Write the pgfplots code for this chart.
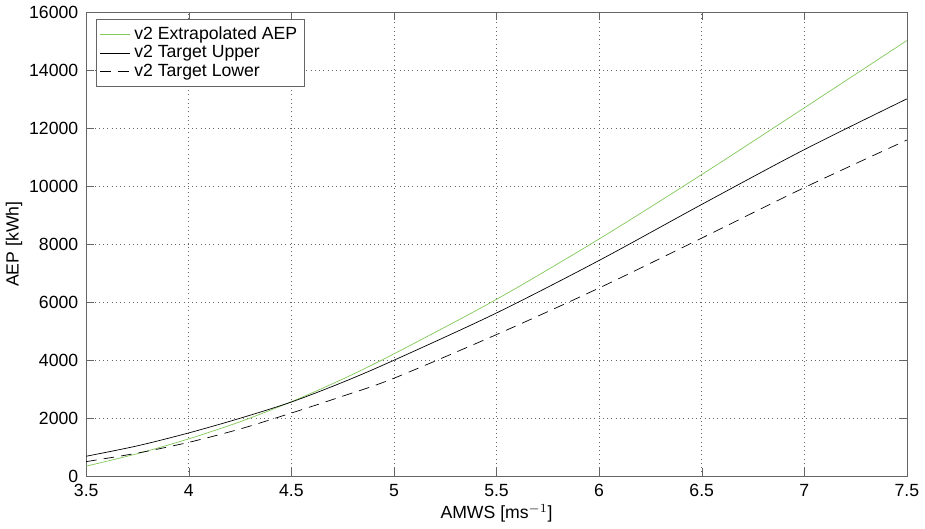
\documentclass[border=0pt]{standalone}
\usepackage{fontspec}
\setmainfont{Liberation Sans}
\usepackage{pgfplots}
\pgfplotsset{compat=1.18}
\definecolor{mgreen}{RGB}{130,200,90}
\begin{document}
\fontsize{10}{12}\selectfont
\begin{tikzpicture}
\begin{axis}[
  scale only axis,
  width=465pt, height=263pt,
  xmin=3.5, xmax=7.5, ymin=0, ymax=16000,
  xtick={3.5,4,...,7.5},
  xticklabels={3.5,4,4.5,5,5.5,6,6.5,7,7.5},
  ytick={0,2000,...,16000},
  scaled y ticks=false,
  /pgf/number format/assume math mode=true,
  yticklabel style={/pgf/number format/1000 sep={}, xshift=-1pt},
  xticklabel style={yshift=-1pt},
  tick align=inside,
  tick pos=both,
  major tick length=4.5pt,
  axis line style={gray!80!black},
  tick style={gray!80!black},
  grid=major,
  major grid style={dotted, gray!80!black},
  xlabel={AMWS [ms$^{-1}$]},
  ylabel={AEP [kWh]},
  xlabel style={yshift=2.5pt},
  ylabel style={yshift=-3pt},
  legend style={draw=gray!80!black, font=\fontsize{10}{12}\selectfont, at={(0.012,0.985)}, anchor=north west, row sep=-2pt, inner xsep=2pt},
  legend cell align=left,
]
\addplot[mgreen, thin, smooth] coordinates {
(3.5,350) (3.75,780) (4.0,1290) (4.25,1880) (4.5,2570) (4.75,3350) (5.0,4220) (5.5,6100) (6.0,8180) (6.5,10400) (7.0,12700) (7.5,15020)};
\addlegendentry{v2 Extrapolated AEP}
\addplot[black, thin, smooth] coordinates {
(3.5,690) (3.75,1050) (4.0,1495) (4.25,2000) (4.5,2560) (4.75,3240) (5.0,4000) (5.5,5630) (6.0,7440) (6.5,9370) (7.0,11260) (7.5,13010)};
\addlegendentry{v2 Target Upper}
\addplot[black, thin, smooth, dash pattern=on 6pt off 4pt] coordinates {
(3.5,505) (3.75,800) (4.0,1170) (4.25,1630) (4.5,2180) (4.75,2760) (5.0,3380) (5.5,4885) (6.0,6490) (6.5,8210) (7.0,9950) (7.5,11590)};
\addlegendentry{v2 Target Lower}
\end{axis}
\end{tikzpicture}
\end{document}
